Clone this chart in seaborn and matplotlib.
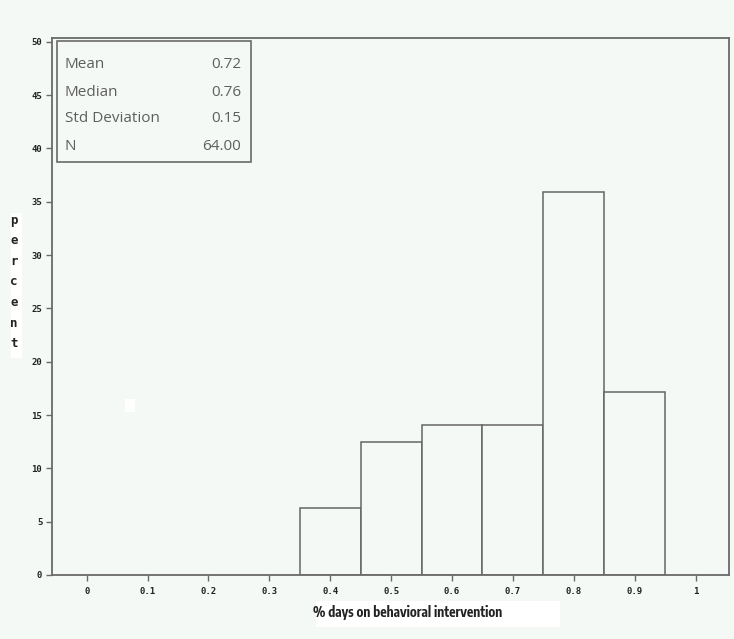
import numpy as np
import pandas as pd
import seaborn as sns
import matplotlib
matplotlib.use("Agg")
import matplotlib.pyplot as plt
from matplotlib.patches import Rectangle
from matplotlib import font_manager

# ---- data ----
bin_centers = [0.4, 0.5, 0.6, 0.7, 0.8, 0.9]
percents = [6.25, 12.5, 14.06, 14.06, 35.94, 17.19]
x_ticks = [0, 0.1, 0.2, 0.3, 0.4, 0.5, 0.6, 0.7, 0.8, 0.9, 1]
x_tick_labels = ["0", "0.1", "0.2", "0.3", "0.4", "0.5", "0.6", "0.7", "0.8", "0.9", "1"]
y_ticks = [0, 5, 10, 15, 20, 25, 30, 35, 40, 45, 50]
stat_names = ["Mean", "Median", "Std Deviation", "N"]
stat_values = ["0.72", "0.76", "0.15", "64.00"]
x_label = "% days on behavioral intervention"
y_label = "percent"

BG = "#f4f9f6"
EDGE = "#656565"

sns.set_theme(style="white")
plt.rcParams["font.family"] = ["DejaVu Sans"]

# find a narrow/condensed font if one is installed
narrow_family = None
for f in font_manager.fontManager.ttflist:
    n = f.name.lower()
    if ("narrow" in n or "condensed" in n) and "sans" in n:
        narrow_family = f.name
        break
if narrow_family is None:
    for f in font_manager.fontManager.ttflist:
        if f.stretch in ("condensed", "semi-condensed", "extra-condensed") or \
           (isinstance(f.stretch, int) and f.stretch < 500):
            narrow_family = f.name
            break

fig = plt.figure(figsize=(7.34, 6.39), dpi=100, facecolor=BG)
ax = fig.add_axes([52 / 734, 1 - 575 / 639, (729 - 52) / 734, (575 - 38) / 639])
ax.set_facecolor(BG)

df = pd.DataFrame({"x": bin_centers, "w": percents})
sns.histplot(data=df, x="x", weights="w", binwidth=0.1, binrange=(0.35, 0.95),
             stat="count", color=BG, edgecolor=EDGE, linewidth=1.1, alpha=1,
             ax=ax)

ax.set_xlim(-0.057, 1.055)
ax.set_ylim(0, 50.35)
ax.set_xticks(x_ticks)
ax.set_xticklabels(x_tick_labels)
ax.set_yticks(y_ticks)
ax.set_xlabel("")
ax.set_ylabel("")
for s in ax.spines.values():
    s.set_color("#6a6a6a")
    s.set_linewidth(1.3)
ax.tick_params(axis="both", which="major", direction="out", length=4, width=1,
               color="#6a6a6a", labelsize=6.5, labelcolor="#222222",
               bottom=True, left=True)
for lab in ax.get_xticklabels() + ax.get_yticklabels():
    lab.set_fontfamily("DejaVu Sans Mono")
    lab.set_fontweight("bold")
ax.tick_params(axis="x", pad=5)
ax.tick_params(axis="y", pad=3)

# y label: stacked letters with white backing
fig.patches.append(Rectangle((11 / 734, 1 - 358 / 639), 11 / 734, 145 / 639,
                             transform=fig.transFigure, facecolor="white",
                             edgecolor="none", zorder=0))
fig.text(14 / 734, 1 - 282 / 639, "\n".join(list(y_label)), ha="center", va="center",
         fontsize=9, fontweight="bold", family="DejaVu Sans Mono",
         color="#222222", linespacing=1.76)

# small white artifact
fig.patches.append(Rectangle((125 / 734, 1 - 412 / 639), 10 / 734, 13 / 639,
                             transform=fig.transFigure, facecolor="white",
                             edgecolor="none", zorder=0))

# x label with white backing
fig.patches.append(Rectangle((316 / 734, 1 - 627 / 639), 244 / 734, 26 / 639,
                             transform=fig.transFigure, facecolor="white",
                             edgecolor="none", zorder=0))
if narrow_family is not None:
    xl_fam = [narrow_family, "DejaVu Sans"]
    xl_size = 9.6
else:
    xl_fam = ["Roboto", "DejaVu Sans"]
    xl_size = 9.0
fig.text(408 / 734, 1 - 612 / 639, x_label, ha="center", va="center",
         fontsize=xl_size, fontweight="bold", family=xl_fam,
         fontstretch="condensed", color="#222222")

# stats box
fig.patches.append(Rectangle((56.7 / 734, 1 - 162 / 639), (250.7 - 56.7) / 734,
                             (162 - 41) / 639, transform=fig.transFigure,
                             facecolor=BG, edgecolor="#6a6a6a", linewidth=1.2,
                             zorder=5))
row_y = [65, 92, 119, 146]
for name, val, yy in zip(stat_names, stat_values, row_y):
    fig.text(65 / 734, 1 - yy / 639, name, ha="left", va="center", fontsize=11,
             family="Open Sans", fontweight="normal", color="#5e5e5e", zorder=6)
    fig.text(241 / 734, 1 - yy / 639, val, ha="right", va="center", fontsize=11,
             family="Open Sans", fontweight="normal", color="#5e5e5e", zorder=6)

fig.savefig("out.png", dpi=100, facecolor=BG)
